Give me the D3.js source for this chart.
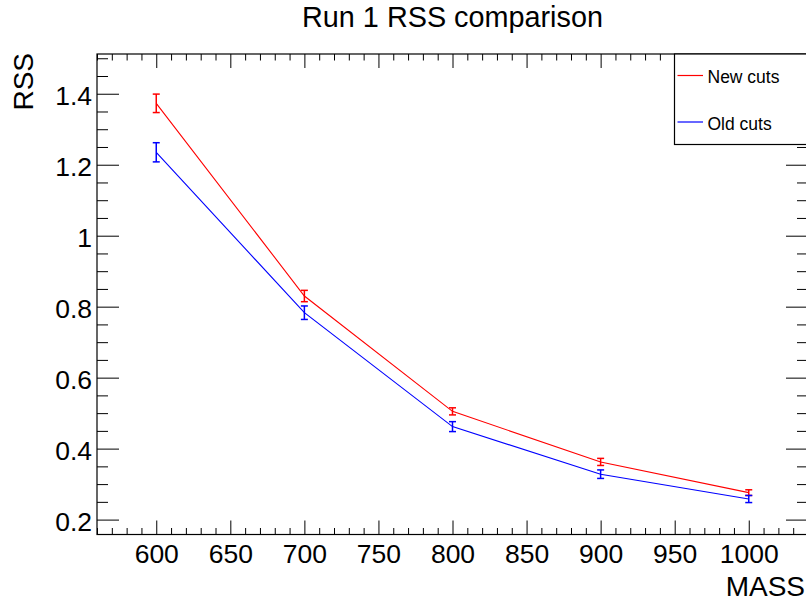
<!DOCTYPE html>
<html>
<head>
<meta charset="utf-8">
<script src="https://cdn.jsdelivr.net/npm/d3@7"></script>
<style>
  html, body { margin: 0; padding: 0; background: #fff; overflow: hidden; }
  svg { display: block; }
  text { font-family: "Liberation Sans", Arial, Helvetica, sans-serif; fill: #000; }
</style>
</head>
<body>
<script>
// ---- data ----
const masses = [600, 700, 800, 900, 1000];
const newCuts = [1.373, 0.830, 0.505, 0.3625, 0.276];
const newErr = [0.026, 0.016, 0.010, 0.010, 0.008];
const oldCuts = [1.235, 0.783, 0.462, 0.328, 0.258];
const oldErr = [0.027, 0.019, 0.014, 0.012, 0.010];
const seriesNames = ["New cuts", "Old cuts"];
const seriesColors = ["#ff0000", "#0000ff"];
const xTickValues = [600, 650, 700, 750, 800, 850, 900, 950, 1000];
const yTickValues = [0.2, 0.4, 0.6, 0.8, 1.0, 1.2, 1.4];
const yTickLabels = ["0.2", "0.4", "0.6", "0.8", "1", "1.2", "1.4"];
const titleText = "Run 1 RSS comparison";
const xTitle = "MASS";
const yTitle = "RSS";

// ---- layout ----
const W = 806, H = 605;
const frame = { left: 97, right: 808, top: 54, bottom: 534.5 };

const svg = d3.select("body").append("svg").attr("width", W).attr("height", H);

const x = d3.scaleLinear().domain([560, 1040]).range([frame.left, frame.right]);
const y = d3.scaleLinear().domain([0.158, 1.512]).range([frame.bottom, frame.top]);

const xMinor = d3.range(560, 1041, 10).filter(v => v % 50 !== 0);
const yMinor = d3.range(0, 31).map(i => +(i * 0.05).toFixed(2))
  .filter(v => v >= y.domain()[0] && v <= y.domain()[1] && Math.round(v * 100) % 20 !== 0);

function styleAxis(g) {
  g.select(".domain").remove();
  g.selectAll("line").attr("stroke", "#000").attr("stroke-width", 1);
  g.selectAll("text").attr("font-family", "Liberation Sans, Arial, sans-serif").attr("font-size", 26.5).attr("fill", "#000");
}

// bottom axis
svg.append("g").attr("transform", `translate(0,${frame.bottom})`)
  .call(d3.axisBottom(x).tickValues(xTickValues).tickSize(-14).tickSizeOuter(0).tickPadding(10).tickFormat(d3.format("d")))
  .call(styleAxis);
svg.append("g").attr("transform", `translate(0,${frame.bottom})`)
  .call(d3.axisBottom(x).tickValues(xMinor).tickSize(-6.5).tickSizeOuter(0).tickFormat(""))
  .call(styleAxis);
// top axis
svg.append("g").attr("transform", `translate(0,${frame.top})`)
  .call(d3.axisTop(x).tickValues(xTickValues).tickSize(-14).tickSizeOuter(0).tickFormat(""))
  .call(styleAxis);
svg.append("g").attr("transform", `translate(0,${frame.top})`)
  .call(d3.axisTop(x).tickValues(xMinor).tickSize(-6.5).tickSizeOuter(0).tickFormat(""))
  .call(styleAxis);
// left axis
svg.append("g").attr("transform", `translate(${frame.left},0)`)
  .call(d3.axisLeft(y).tickValues(yTickValues).tickSize(-22).tickSizeOuter(0).tickPadding(5)
    .tickFormat((d, i) => yTickLabels[i]))
  .call(styleAxis)
  .call(g => g.selectAll("text").attr("dy", null).attr("y", 10.5));
svg.append("g").attr("transform", `translate(${frame.left},0)`)
  .call(d3.axisLeft(y).tickValues(yMinor).tickSize(-11).tickSizeOuter(0).tickFormat(""))
  .call(styleAxis);
// right axis
svg.append("g").attr("transform", `translate(${frame.right},0)`)
  .call(d3.axisRight(y).tickValues(yTickValues).tickSize(-22).tickSizeOuter(0).tickFormat(""))
  .call(styleAxis);
svg.append("g").attr("transform", `translate(${frame.right},0)`)
  .call(d3.axisRight(y).tickValues(yMinor).tickSize(-11).tickSizeOuter(0).tickFormat(""))
  .call(styleAxis);

// frame
svg.append("rect")
  .attr("x", frame.left).attr("y", frame.top)
  .attr("width", frame.right - frame.left).attr("height", frame.bottom - frame.top)
  .attr("fill", "none").attr("stroke", "#000").attr("stroke-width", 1.2);

// series
const series = [
  { name: seriesNames[0], color: seriesColors[0], vals: newCuts, errs: newErr },
  { name: seriesNames[1], color: seriesColors[1], vals: oldCuts, errs: oldErr }
];
const line = d3.line().x(d => x(d.m)).y(d => y(d.v));
series.forEach(s => {
  const pts = masses.map((m, i) => ({ m, v: s.vals[i], e: s.errs[i] }));
  const g = svg.append("g");
  g.append("path").datum(pts).attr("d", line)
    .attr("fill", "none").attr("stroke", s.color).attr("stroke-width", 1.1);
  const eb = g.selectAll("g.eb").data(pts).enter().append("g");
  eb.append("line")
    .attr("x1", d => x(d.m)).attr("x2", d => x(d.m))
    .attr("y1", d => y(d.v + d.e)).attr("y2", d => y(d.v - d.e))
    .attr("stroke", s.color).attr("stroke-width", 1.5);
  [1, -1].forEach(sign => {
    eb.append("line")
      .attr("x1", d => x(d.m) - 3.5).attr("x2", d => x(d.m) + 3.5)
      .attr("y1", d => y(d.v + sign * d.e)).attr("y2", d => y(d.v + sign * d.e))
      .attr("stroke", s.color).attr("stroke-width", 1.5);
  });
});

// legend
const leg = svg.append("g");
leg.append("rect").attr("x", 674.5).attr("y", 54).attr("width", 140).attr("height", 90.5)
  .attr("fill", "#fff").attr("stroke", "#000").attr("stroke-width", 1.2);
const legRowY = [75.5, 122];
series.forEach((s, i) => {
  leg.append("line").attr("x1", 677.5).attr("x2", 703).attr("y1", legRowY[i]).attr("y2", legRowY[i])
    .attr("stroke", s.color).attr("stroke-width", 1.2);
  leg.append("text").attr("x", 707.5).attr("y", legRowY[i] + 7.5)
    .attr("font-size", 17.5).text(s.name);
});

// titles
svg.append("text").attr("x", 452.5).attr("y", 26.5).attr("text-anchor", "middle")
  .attr("font-size", 28.8).text(titleText);
svg.append("text").attr("x", 805).attr("y", 596).attr("text-anchor", "end")
  .attr("font-size", 28).text(xTitle);
svg.append("text").attr("transform", "translate(33,53) rotate(-90)").attr("text-anchor", "end")
  .attr("font-size", 28).text(yTitle);
</script>
</body>
</html>
